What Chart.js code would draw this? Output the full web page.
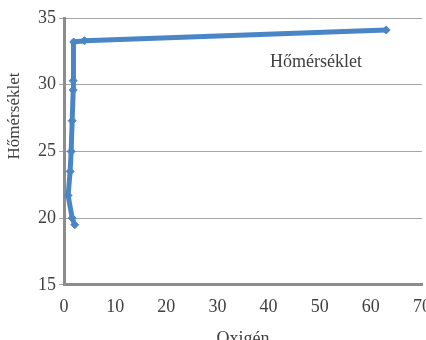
<!DOCTYPE html>
<html>
<head>
<meta charset="utf-8">
<script src="https://cdn.jsdelivr.net/npm/chart.js@4"></script>
<style>
  html, body { margin: 0; padding: 0; overflow: hidden; background: #fff; }
  #wrap { width: 426px; height: 340px; overflow: hidden; }
</style>
</head>
<body>
<div id="wrap"><canvas id="myChart" width="433" height="354"></canvas></div>
<script>
const oxigen = [2.1, 1.6, 0.8, 1.2, 1.4, 1.6, 1.8, 1.8, 1.9, 4.0, 63];
const homerseklet = [19.5, 20.0, 21.7, 23.5, 25.0, 27.3, 29.6, 30.3, 33.2, 33.3, 34.1];
const seriesName = 'Hőmérséklet';
const yTitle = 'Hőmérséklet';
const xTitle = 'Oxigén';

const points = oxigen.map((x, i) => ({ x: x, y: homerseklet[i] }));
const font = 'Liberation Serif';

// series label inside the plot and the y title, drawn by hand
const textLabels = {
  id: 'textLabels',
  afterDraw(chart) {
    const { ctx, chartArea } = chart;
    ctx.save();
    ctx.fillStyle = '#404040';
    ctx.textBaseline = 'middle';
    ctx.font = '18px "' + font + '"';
    ctx.fillText(seriesName, chartArea.left + 206, chartArea.top + 44);
    ctx.font = '17px "' + font + '"';
    ctx.translate(15, chartArea.top + 98);
    ctx.rotate(-Math.PI / 2);
    ctx.textAlign = 'center';
    ctx.fillText(yTitle, 0, 0);
    ctx.restore();
  }
};

new Chart(document.getElementById('myChart'), {
  type: 'scatter',
  data: {
    datasets: [{
      label: seriesName,
      data: points,
      showLine: true,
      borderColor: '#4a86c6',
      backgroundColor: '#4a86c6',
      borderWidth: 5,
      pointStyle: 'rectRot',
      pointRadius: 4,
      pointBorderWidth: 1,
    }]
  },
  options: {
    responsive: false,
    animation: false,
    layout: { padding: { left: 35, right: 0, top: 18, bottom: 0 } },
    scales: {
      x: {
        type: 'linear',
        min: 0,
        max: 70,
        ticks: { stepSize: 10, color: '#404040', font: { family: font, size: 18 }, padding: 2 },
        grid: { display: false, drawTicks: true, tickLength: 10, tickColor: '#b0b0b0' },
        border: { color: '#8c8c8c', width: 3 },
        title: { display: true, text: xTitle, color: '#404040', font: { family: font, size: 18 }, padding: { top: 8 } }
      },
      y: {
        min: 15,
        max: 35,
        ticks: { stepSize: 5, color: '#404040', font: { family: font, size: 18 }, padding: 3 },
        grid: { color: '#a6a6a6', lineWidth: 1, tickLength: 5 },
        border: { color: '#8c8c8c', width: 3 }
      }
    },
    plugins: {
      legend: { display: false },
      tooltip: { enabled: false }
    }
  },
  plugins: [textLabels]
});
</script>
</body>
</html>
